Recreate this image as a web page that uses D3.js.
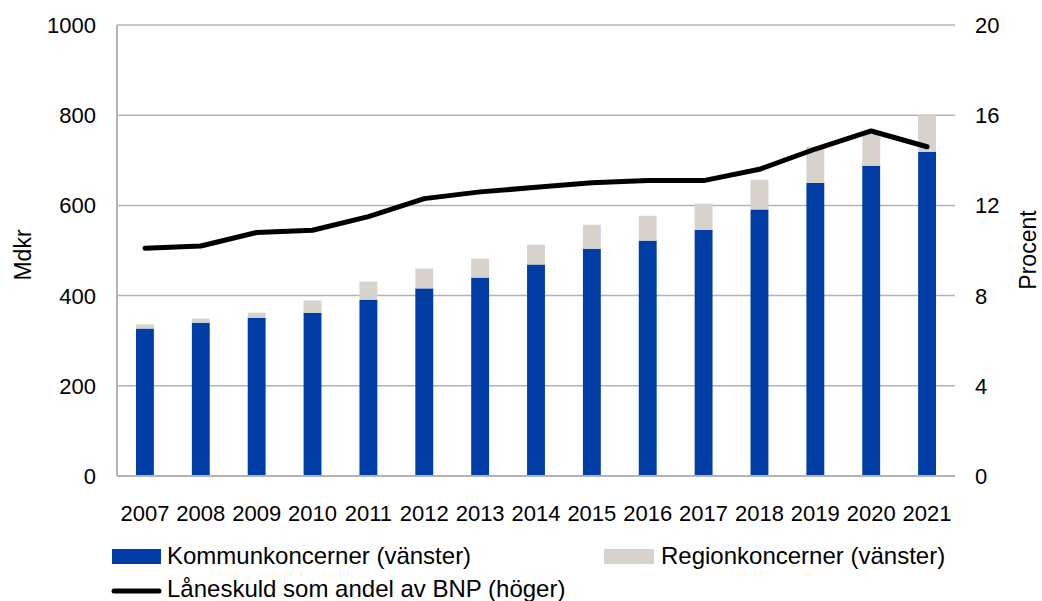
<!DOCTYPE html>
<html>
<head>
<meta charset="utf-8">
<script src="https://cdn.jsdelivr.net/npm/d3@7"></script>
<style>
  body { margin: 0; background: #fff; }
  svg text { font-family: "Liberation Sans", Arial, sans-serif; fill: #000; }
</style>
</head>
<body>
<svg width="1042" height="601"></svg>
<script>
var years = ["2007","2008","2009","2010","2011","2012","2013","2014","2015","2016","2017","2018","2019","2020","2021"];
var kommun = [327, 340, 351, 362, 391, 416, 440, 469, 504, 522, 546, 591, 650, 688, 719];
var region = [9, 9, 11, 27, 40, 44, 42, 44, 53, 55, 58, 66, 80, 75, 81];
var andel = [10.1, 10.2, 10.8, 10.9, 11.5, 12.3, 12.6, 12.8, 13.0, 13.1, 13.1, 13.6, 14.5, 15.3, 14.6];
var leftTicks = [0, 200, 400, 600, 800, 1000];
var rightTicks = [0, 4, 8, 12, 16, 20];

var svg = d3.select("svg");

var plotL = 117, plotR = 955, plotT = 25, plotB = 476;

var x = d3.scaleBand().domain(years).range([plotL, plotR]).paddingInner(0.68).paddingOuter(0.34);
var yL = d3.scaleLinear().domain([0, 1000]).range([plotB, plotT]);
var yR = d3.scaleLinear().domain([0, 20]).range([plotB, plotT]);

// gridlines
svg.append("g").selectAll("line")
    .data(leftTicks.slice(1))
    .enter().append("line")
    .attr("x1", plotL).attr("x2", plotR)
    .attr("y1", function(d) { return yL(d); })
    .attr("y2", function(d) { return yL(d); })
    .attr("stroke", "#b3b3b3").attr("stroke-width", 1.5);

// bars
var rows = years.map(function(y, i) { return {year: y, k: kommun[i], r: region[i]}; });

svg.append("g").selectAll("rect")
    .data(rows)
    .enter().append("rect")
    .attr("x", function(d) { return x(d.year); })
    .attr("width", x.bandwidth())
    .attr("y", function(d) { return yL(d.k); })
    .attr("height", function(d) { return yL(0) - yL(d.k); })
    .attr("fill", "#003da5");

svg.append("g").selectAll("rect")
    .data(rows)
    .enter().append("rect")
    .attr("x", function(d) { return x(d.year); })
    .attr("width", x.bandwidth())
    .attr("y", function(d) { return yL(d.k + d.r); })
    .attr("height", function(d) { return yL(d.k) - yL(d.k + d.r); })
    .attr("fill", "#d7d2cb");

// axis lines
svg.append("line").attr("x1", plotL).attr("x2", plotL).attr("y1", plotT).attr("y2", plotB)
    .attr("stroke", "#b3b3b3").attr("stroke-width", 2);
svg.append("line").attr("x1", plotL).attr("x2", plotR).attr("y1", plotB).attr("y2", plotB)
    .attr("stroke", "#b3b3b3").attr("stroke-width", 2);

// line
var line = d3.line()
    .x(function(d, i) { return x(years[i]) + x.bandwidth() / 2; })
    .y(function(d) { return yR(d); });

svg.append("path")
    .datum(andel)
    .attr("d", line)
    .attr("fill", "none")
    .attr("stroke", "#000")
    .attr("stroke-width", 5)
    .attr("stroke-linecap", "round")
    .attr("stroke-linejoin", "round");

// tick labels
svg.append("g").selectAll("text")
    .data(leftTicks)
    .enter().append("text")
    .attr("x", 96).attr("y", function(d) { return yL(d); })
    .attr("dy", "0.36em")
    .attr("text-anchor", "end")
    .style("font-size", "22px")
    .text(function(d) { return d; });

svg.append("g").selectAll("text")
    .data(rightTicks)
    .enter().append("text")
    .attr("x", 975).attr("y", function(d) { return yR(d); })
    .attr("dy", "0.36em")
    .style("font-size", "22px")
    .text(function(d) { return d; });

svg.append("g").selectAll("text")
    .data(years)
    .enter().append("text")
    .attr("x", function(d) { return x(d) + x.bandwidth() / 2; })
    .attr("y", 513)
    .attr("dy", "0.36em")
    .attr("text-anchor", "middle")
    .style("font-size", "22px")
    .text(function(d) { return d; });

// axis titles
svg.append("text")
    .attr("transform", "translate(31,255) rotate(-90)")
    .attr("text-anchor", "middle")
    .style("font-size", "23px")
    .text("Mdkr");

svg.append("text")
    .attr("transform", "translate(1019,250) rotate(-90)")
    .attr("text-anchor", "middle")
    .attr("dy", "0.72em")
    .style("font-size", "23px")
    .text("Procent");

// legend
var legend = svg.append("g");
legend.append("rect").attr("x", 112).attr("y", 549).attr("width", 49).attr("height", 15).attr("fill", "#003da5");
legend.append("text").attr("x", 167).attr("y", 555).attr("dy", "0.36em").style("font-size", "24px")
    .text("Kommunkoncerner (vänster)");
legend.append("rect").attr("x", 604).attr("y", 549).attr("width", 50).attr("height", 15).attr("fill", "#d7d2cb");
legend.append("text").attr("x", 661).attr("y", 555).attr("dy", "0.36em").style("font-size", "24px")
    .text("Regionkoncerner (vänster)");
legend.append("line").attr("x1", 114).attr("x2", 159).attr("y1", 591).attr("y2", 591)
    .attr("stroke", "#000").attr("stroke-width", 5).attr("stroke-linecap", "round");
legend.append("text").attr("x", 167).attr("y", 588).attr("dy", "0.36em").style("font-size", "24px")
    .text("Låneskuld som andel av BNP (höger)");
</script>
</body>
</html>
